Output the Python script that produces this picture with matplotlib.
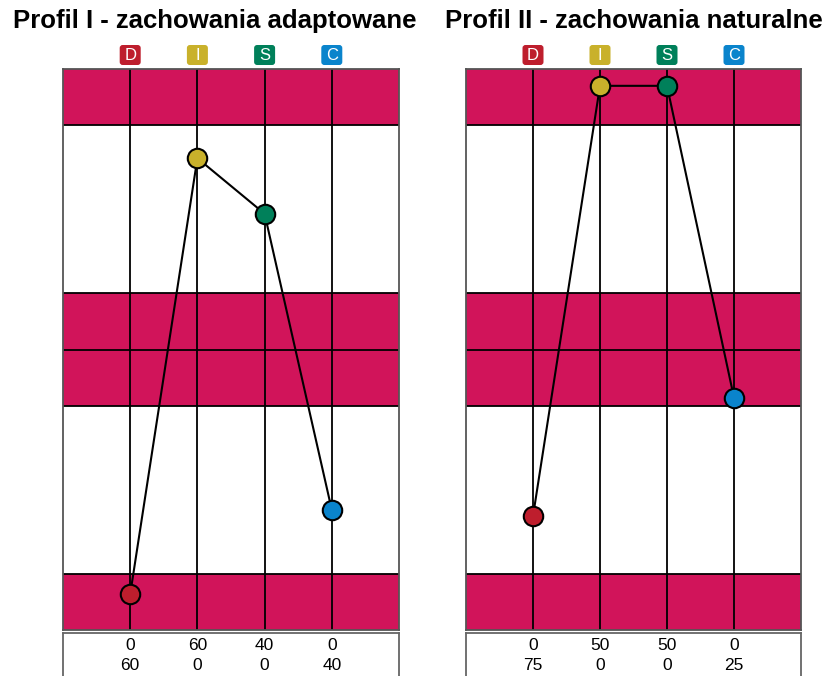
import matplotlib
matplotlib.use("Agg")
import matplotlib.pyplot as plt
import matplotlib.transforms as mtransforms
from matplotlib.patches import Rectangle, FancyBboxPatch

plt.rcParams["font.family"] = ["Liberation Sans", "DejaVu Sans"]

letters = ["D", "I", "S", "C"]
letter_colors = ["#BE1E2D", "#C9B12B", "#00805A", "#0A84CC"]
titles = ["Profil I - zachowania adaptowane", "Profil II - zachowania naturalne"]

# point heights on the 0..10 profile scale
profile_1 = [0.64, 8.41, 7.42, 2.14]
profile_2 = [2.03, 9.70, 9.70, 4.14]

# table rows under each chart
table_1 = [["0", "60", "40", "0"], ["60", "0", "0", "40"]]
table_2 = [["0", "50", "50", "0"], ["75", "0", "0", "25"]]

# pink bands (bottom, top) on the 0..10 scale
bands = [(0, 1), (4, 5), (5, 6), (9, 10)]
pink = "#D1145A"

W, H = 829, 676
fig = plt.figure(figsize=(W / 100, H / 100), dpi=100)
# pixel coordinates, origin at the top left
px = mtransforms.Affine2D().scale(1 / W, -1 / H).translate(0, 1) + fig.transFigure


def draw_panel(x0, x1, title_x, title, values, table):
    left = x0 / W
    width = (x1 - x0) / W
    ax = fig.add_axes([left, 46 / H, width, 561 / H])
    ax.set_xlim(0, 5)
    ax.set_ylim(0, 10)
    for b0, b1 in bands:
        ax.add_patch(Rectangle((0, b0), 5, b1 - b0, color=pink, lw=0, zorder=0))
    for yl in [1, 4, 5, 6, 9]:
        ax.axhline(yl, color="black", lw=1.3, zorder=1)
    xs = [1, 2, 3, 4]
    for xv in xs:
        ax.axvline(xv, color="black", lw=1.3, zorder=1)
    ax.plot(xs, values, color="black", lw=1.5, zorder=2)
    for xv, yv, c in zip(xs, values, letter_colors):
        ax.plot(xv, yv, "o", ms=14, mfc=c, mec="black", mew=1.5, zorder=3)
    ax.set_xticks([])
    ax.set_yticks([])
    for s in ax.spines.values():
        s.set_color("#555555")
        s.set_linewidth(1.3)

    # letter badges above the chart
    for xv, lab, c in zip(xs, letters, letter_colors):
        cx = x0 + xv / 5 * (x1 - x0)
        fig.add_artist(FancyBboxPatch((cx - 10.5, 45), 21, 20,
                                      boxstyle="round,pad=0,rounding_size=3",
                                      fc=c, ec="none", transform=px))
        fig.text(cx, 55.5, lab, ha="center", va="center", color="white",
                 fontsize=12, transform=px)
    # title
    fig.text(title_x, 21, title, ha="center", va="center",
             fontsize=18.5, fontweight="bold", transform=px)

    # table box
    tb = fig.add_axes([left, -10 / H, width, 53 / H])
    tb.set_xlim(0, 5)
    tb.set_ylim(0, 1)
    tb.set_xticks([])
    tb.set_yticks([])
    for s in tb.spines.values():
        s.set_color("#666666")
        s.set_linewidth(1.3)
    for xv, r1, r2 in zip(xs, table[0], table[1]):
        cx = x0 + xv / 5 * (x1 - x0)
        fig.text(cx, 645, r1, ha="center", va="center", fontsize=12.5,
                 transform=px)
        fig.text(cx, 666, r2, ha="center", va="center", fontsize=12.5,
                 transform=px)


draw_panel(63, 399, 215, titles[0], profile_1, table_1)
draw_panel(466, 801, 634, titles[1], profile_2, table_2)

fig.savefig("out.png", dpi=100)
